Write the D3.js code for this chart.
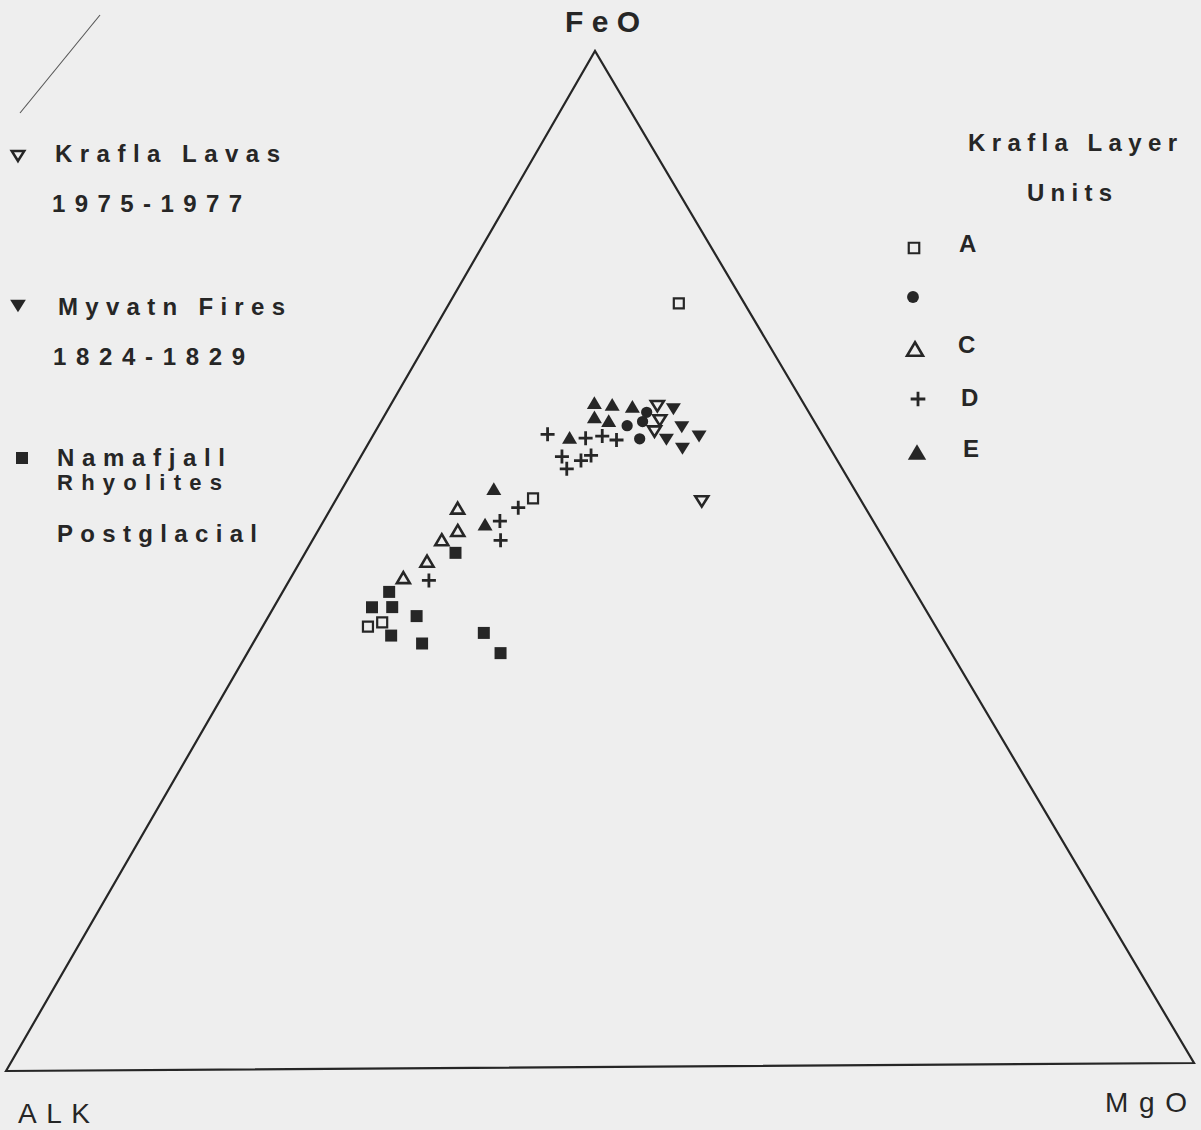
<!DOCTYPE html>
<html>
<head>
<meta charset="utf-8">
<script src="https://cdn.jsdelivr.net/npm/d3@7"></script>
<style>
body { margin: 0; background: #eeeeee; }
svg { display: block; font-family: "Liberation Sans", Arial, sans-serif; }
</style>
</head>
<body>
<script>
// ternary compositions, each point is [FeO, ALK, MgO] in %
let kraflaLavas = [[65.0, 12.4, 22.6], [63.6, 12.9, 23.5], [62.5, 13.9, 23.6], [55.6, 13.4, 31.0]];
let myvatnFires = [[64.7, 11.2, 24.1], [62.9, 11.4, 25.7], [62.0, 10.4, 27.6], [61.7, 13.3, 25.0], [60.8, 12.4, 26.8]];
let namafjall = [[50.7, 36.6, 12.7], [46.9, 44.1, 9.0], [45.4, 46.3, 8.3], [45.4, 44.6, 10.0], [44.5, 43.0, 12.5],
                 [42.6, 46.1, 11.3], [41.8, 43.9, 14.3], [42.8, 38.2, 19.0], [40.8, 37.8, 21.4]];
let unitA = [[75.1, 5.5, 19.4], [56.0, 27.4, 16.6], [43.5, 47.6, 8.9], [43.9, 46.2, 9.9]];
let unitB = [[64.4, 13.6, 22.0], [63.5, 14.4, 22.1], [63.1, 15.9, 21.0], [61.8, 15.5, 22.7]];
let unitC = [[55.1, 34.2, 10.7], [52.9, 35.3, 11.8], [52.0, 37.1, 10.9], [49.9, 39.4, 10.7], [48.3, 42.2, 9.5]];
let unitD = [[62.3, 23.0, 14.7], [61.9, 20.0, 18.1], [62.1, 18.5, 19.4], [61.7, 17.5, 20.8], [60.1, 22.9, 17.0],
             [58.9, 23.1, 18.0], [59.7, 21.5, 18.8], [60.2, 20.4, 19.4], [55.1, 29.1, 15.8], [53.8, 31.3, 14.9],
             [51.9, 32.2, 15.9], [48.0, 40.2, 11.8]];
let unitE = [[65.4, 17.5, 17.1], [65.2, 16.1, 18.7], [65.0, 14.5, 20.5], [64.0, 18.2, 17.8], [63.6, 17.2, 19.2],
             [62.0, 21.3, 16.7], [57.0, 30.2, 12.8], [53.5, 32.7, 13.8]];

let apexLabels = ["FeO", "ALK", "MgO"];
let leftLegendText = ["Krafla Lavas", "1975-1977", "Myvatn Fires", "1824-1829", "Namafjall", "Rhyolites", "Postglacial"];
let rightLegendTitle = ["Krafla Layer", "Units"];
let unitLabels = ["A", "", "C", "D", "E"];

let ink = "#262626";

let svg = d3.select("body").append("svg")
    .attr("width", 1201)
    .attr("height", 1130);

// triangle corners
let pA = {x: 6, y: 1071},    // ALK
    pF = {x: 595, y: 51},    // FeO
    pM = {x: 1194, y: 1063}; // MgO

let feX = d3.scaleLinear().domain([0, 100]).range([0, pF.x - pA.x]);
let feY = d3.scaleLinear().domain([0, 100]).range([0, pF.y - pA.y]);
let mgX = d3.scaleLinear().domain([0, 100]).range([0, pM.x - pA.x]);
let mgY = d3.scaleLinear().domain([0, 100]).range([0, pM.y - pA.y]);

function project(d) {
    let s = d[0] + d[1] + d[2];
    let f = d[0] / s * 100, m = d[2] / s * 100;
    return [pA.x + feX(f) + mgX(m), pA.y + feY(f) + mgY(m)];
}

// outline
svg.append("path")
    .attr("d", d3.line()([project([0, 100, 0]), project([100, 0, 0]), project([0, 0, 100])]) + "Z")
    .attr("fill", "none")
    .attr("stroke", ink)
    .attr("stroke-width", 2.2);

// stray pen stroke top left
svg.append("line")
    .attr("x1", 100).attr("y1", 15).attr("x2", 20).attr("y2", 113)
    .attr("stroke", "#555").attr("stroke-width", 1.1);

// symbol shapes (size = width squared)
let triUp = {draw(c, s) { let w = Math.sqrt(s), h = w * 0.85;
    c.moveTo(0, -h / 2); c.lineTo(w / 2, h / 2); c.lineTo(-w / 2, h / 2); c.closePath(); }};
let triDown = {draw(c, s) { let w = Math.sqrt(s), h = w * 0.8;
    c.moveTo(0, h / 2); c.lineTo(w / 2, -h / 2); c.lineTo(-w / 2, -h / 2); c.closePath(); }};
let plus = {draw(c, s) { let r = Math.sqrt(s) / 2;
    c.moveTo(-r, 0); c.lineTo(r, 0); c.moveTo(0, -r); c.lineTo(0, r); }};

let styles = {
    lavas:  {type: triDown, size: 13 * 13, fill: "none", sw: 2.6},
    myvatn: {type: triDown, size: 15 * 15, fill: ink, sw: 0},
    nama:   {type: d3.symbolSquare, size: 12 * 12, fill: ink, sw: 0},
    A:      {type: d3.symbolSquare, size: 10 * 10, fill: "none", sw: 2.2},
    B:      {type: d3.symbolCircle, size: 100, fill: ink, sw: 0},
    C:      {type: triUp, size: 13 * 13, fill: "none", sw: 2.6},
    D:      {type: plus, size: 14 * 14, fill: "none", sw: 2.8},
    E:      {type: triUp, size: 15 * 15, fill: ink, sw: 0}
};

function drawMarks(data, st) {
    svg.append("g").selectAll("path")
        .data(data)
        .enter().append("path")
        .attr("transform", d => "translate(" + project(d) + ")")
        .attr("d", d3.symbol().type(st.type).size(st.size))
        .attr("fill", st.fill)
        .attr("stroke", st.sw ? ink : "none")
        .attr("stroke-width", st.sw);
}

drawMarks(namafjall, styles.nama);
drawMarks(unitA, styles.A);
drawMarks(unitC, styles.C);
drawMarks(unitD, styles.D);
drawMarks(unitE, styles.E);
drawMarks(unitB, styles.B);
drawMarks(kraflaLavas, styles.lavas);
drawMarks(myvatnFires, styles.myvatn);

function legendMark(x, y, st, scale) {
    svg.append("path")
        .attr("transform", "translate(" + x + "," + y + ")")
        .attr("d", d3.symbol().type(st.type).size(st.size * (scale || 1)))
        .attr("fill", st.fill)
        .attr("stroke", st.sw ? ink : "none")
        .attr("stroke-width", st.sw);
}

function label(txt, x, y, len, size, weight) {
    let t = svg.append("text")
        .attr("x", x).attr("y", y)
        .attr("font-size", size)
        .attr("font-weight", weight || "bold")
        .attr("fill", ink)
        .text(txt);
    if (len) t.attr("textLength", len).attr("lengthAdjust", "spacing");
    return t;
}

// apex labels
label(apexLabels[0], 565, 32, 75, 30, "bold");
label(apexLabels[1], 18, 1123, 72, 28, "normal");
label(apexLabels[2], 1105, 1112, 82, 28, "normal");

// left legend
legendMark(18, 156, styles.lavas, 0.9);
label(leftLegendText[0], 55, 162, 225, 24);
label(leftLegendText[1], 52, 212, 190, 24);
legendMark(18, 306, styles.myvatn, 1.1);
label(leftLegendText[2], 58, 315, 227, 24);
label(leftLegendText[3], 53, 365, 192, 24);
legendMark(22, 458, styles.nama, 1.0);
label(leftLegendText[4], 57, 466, 168, 24);
label(leftLegendText[5], 57, 490, 165, 22);
label(leftLegendText[6], 57, 542, 200, 24);

// right legend
label(rightLegendTitle[0], 968, 151, 209, 24);
label(rightLegendTitle[1], 1027, 201, 85, 24);
let unitStyles = [styles.A, styles.B, styles.C, styles.D, styles.E];
let unitMarkY = [248, 297, 349, 399, 452];
let unitMarkX = [914, 913, 915, 918, 917];
let unitLabelX = [959, 0, 958, 961, 963];
let unitLabelY = [252, 0, 353, 406, 457];
unitStyles.forEach((st, i) => {
    let sc = (i === 2 || i === 4) ? 1.5 : 1.1;
    legendMark(unitMarkX[i], unitMarkY[i], st, sc);
    if (unitLabels[i]) label(unitLabels[i], unitLabelX[i], unitLabelY[i], null, 24);
});
</script>
</body>
</html>
